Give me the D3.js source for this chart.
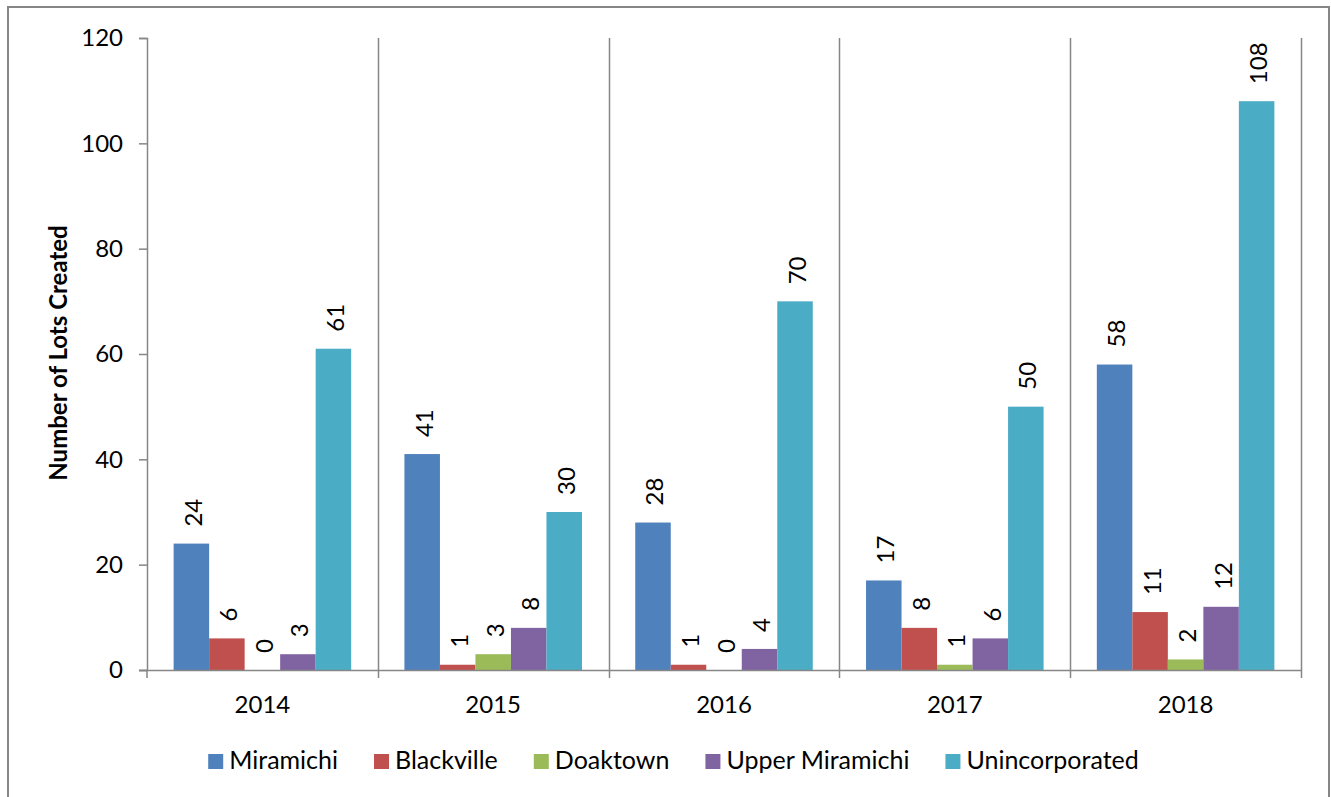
<!DOCTYPE html>
<html>
<head>
<meta charset="utf-8">
<script src="https://cdn.jsdelivr.net/npm/d3@7"></script>
<style>
  html, body { margin: 0; padding: 0; background: #fff; }
  svg { display: block; font-family: Lato, "Open Sans", sans-serif; }
</style>
</head>
<body>
<svg id="chart" width="1331" height="797"></svg>
<script>
// Lots created per year, by municipality
const years = ["2014", "2015", "2016", "2017", "2018"];
const seriesNames = ["Miramichi", "Blackville", "Doaktown", "Upper Miramichi", "Unincorporated"];
const miramichi = [24, 41, 28, 17, 58];
const blackville = [6, 1, 1, 8, 11];
const doaktown = [0, 3, 0, 1, 2];
const upperMiramichi = [3, 8, 4, 6, 12];
const unincorporated = [61, 30, 70, 50, 108];
const yTicks = [0, 20, 40, 60, 80, 100, 120];
const colors = ["#4F81BD", "#C0504D", "#9BBB59", "#8064A2", "#4BACC6"];

const seriesValues = [miramichi, blackville, doaktown, upperMiramichi, unincorporated];
const rows = years.map((yr, i) => ({
  year: yr,
  values: seriesNames.map((s, j) => ({ series: s, value: seriesValues[j][i], color: colors[j] }))
}));

const svg = d3.select("#chart");
const axisColor = "#868686";
const plot = { left: 147, right: 1301, top: 38, bottom: 670 };

// outer chart frame
svg.append("rect")
  .attr("x", 8).attr("y", 7)
  .attr("width", 1321).attr("height", 820)
  .attr("fill", "none").attr("stroke", axisColor).attr("stroke-width", 2);

const y = d3.scaleLinear().domain([0, 120]).range([plot.bottom, plot.top]);
const x0 = d3.scaleBand().domain(years).range([plot.left, plot.right]).paddingInner(0).paddingOuter(0);
const x1 = d3.scaleBand().domain(seriesNames).range([0, x0.bandwidth()]).paddingInner(0).paddingOuter(0.75);

// vertical separators between year groups
const bounds = years.map(yr => x0(yr) + x0.bandwidth());
svg.append("g").selectAll("line").data(bounds).join("line")
  .attr("x1", d => Math.round(d) + 0.5).attr("x2", d => Math.round(d) + 0.5)
  .attr("y1", plot.top).attr("y2", plot.bottom + 8)
  .attr("stroke", axisColor).attr("stroke-width", 1.5);

// bars
const groups = svg.append("g").selectAll("g").data(rows).join("g")
  .attr("transform", d => `translate(${x0(d.year)},0)`);

groups.selectAll("rect").data(d => d.values).join("rect")
  .attr("x", d => x1(d.series))
  .attr("y", d => y(d.value))
  .attr("width", x1.bandwidth())
  .attr("height", d => y(0) - y(d.value))
  .attr("fill", d => d.color);

// rotated value labels above each bar
groups.selectAll("text").data(d => d.values).join("text")
  .attr("transform", d => `translate(${x1(d.series) + x1.bandwidth() / 2 + 1},${y(d.value) - 17}) rotate(-90)`)
  .attr("text-anchor", "start")
  .attr("dominant-baseline", "central")
  .attr("font-size", 24)
  .attr("fill", "#000")
  .text(d => d.value);

// y axis
const yAxis = d3.axisLeft(y).tickValues(yTicks).tickSize(8).tickPadding(16);
const gy = svg.append("g").attr("transform", `translate(${plot.left},0)`).call(yAxis);
gy.select(".domain").attr("stroke", axisColor).attr("stroke-width", 1.5);
gy.selectAll(".tick line").attr("stroke", axisColor).attr("stroke-width", 1.5);
gy.selectAll(".tick text").attr("font-size", 24).attr("fill", "#000").attr("font-family", "Lato, sans-serif");

// x axis baseline, with tick marks at the group boundaries
svg.append("line")
  .attr("x1", plot.left - 8).attr("x2", plot.right)
  .attr("y1", plot.bottom + 0.5).attr("y2", plot.bottom + 0.5)
  .attr("stroke", axisColor).attr("stroke-width", 1.5);
svg.append("line")
  .attr("x1", plot.left).attr("x2", plot.left)
  .attr("y1", plot.bottom).attr("y2", plot.bottom + 8)
  .attr("stroke", axisColor).attr("stroke-width", 1.5);

// year labels
svg.append("g").selectAll("text").data(years).join("text")
  .attr("x", d => x0(d) + x0.bandwidth() / 2)
  .attr("y", 713)
  .attr("text-anchor", "middle")
  .attr("font-size", 24)
  .attr("fill", "#000")
  .text(d => d);

// y axis title
svg.append("text")
  .attr("transform", "translate(67,353) rotate(-90)")
  .attr("text-anchor", "middle")
  .attr("font-size", 24)
  .attr("font-weight", "bold")
  .attr("fill", "#000")
  .text("Number of Lots Created");

// legend
const legend = svg.append("g");
const items = legend.selectAll("g").data(seriesNames).join("g");
items.append("rect")
  .attr("width", 15).attr("height", 15)
  .attr("y", 754)
  .attr("fill", (d, i) => colors[i]);
items.append("text")
  .attr("x", 21).attr("y", 769)
  .attr("font-size", 25)
  .attr("fill", "#000")
  .text(d => d);
let cursor = 0;
const offsets = [];
items.each(function () {
  const w = d3.select(this).select("text").node().getComputedTextLength();
  offsets.push(cursor);
  cursor += 21 + w + 36;
});
const total = cursor - 36;
const startX = 673.5 - total / 2;
items.attr("transform", (d, i) => `translate(${startX + offsets[i]},0)`);
</script>
</body>
</html>
